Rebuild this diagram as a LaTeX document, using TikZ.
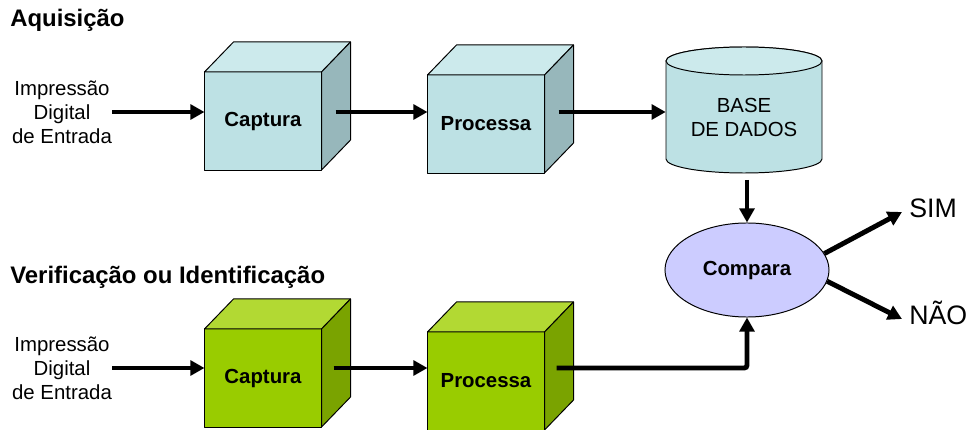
\documentclass[tikz,border=0pt]{standalone}
\usepackage{fontspec}
\setmainfont{Liberation Sans}
\usepackage{tikz}
\usetikzlibrary{positioning,shapes.geometric,arrows.meta}
\definecolor{aqfront}{RGB}{189,225,228}
\definecolor{aqtop}{RGB}{204,234,236}
\definecolor{aqside}{RGB}{151,183,187}
\definecolor{vefront}{RGB}{153,204,0}
\definecolor{vetop}{RGB}{178,217,51}
\definecolor{veside}{RGB}{122,163,0}
\definecolor{cmpfill}{RGB}{204,204,255}
\tikzset{%
	face/.style={draw, line width=0.7pt, line join=round},
	front/.style={%
		face,
		rectangle,
		outer sep=0pt,
		minimum width=2.925cm,
		minimum height=2.45cm,
		font=\bfseries\fontsize{14.5}{17}\selectfont
	},
	heading/.style={anchor=base west, inner sep=0pt, font=\bfseries\fontsize{17}{20}\selectfont},
	input/.style={align=center, inner sep=0pt, font=\fontsize{14.5}{17}\selectfont},
	dbtext/.style={align=center, inner sep=0pt, minimum width=3.9cm, font=\fontsize{14.5}{17}\selectfont},
	compare/.style={face, ellipse, fill=cmpfill, inner sep=0pt, minimum width=4.1cm, minimum height=2.35cm, font=\bfseries\fontsize{14.5}{17}\selectfont},
	outcome/.style={anchor=west, inner sep=5pt, text height=0.72em, text depth=0pt, font=\fontsize{19}{22}\selectfont},
	flow/.style={line width=3.5pt, -{Triangle[length=10pt,width=10.5pt]}}
}
\newcommand{\cubesides}[3]{% node, top colour, side colour
	\draw[face, fill=#2] (#1.north west) -- ++(29,30) -- ([shift={(29,30)}]#1.north east) -- (#1.north east) -- cycle;
	\draw[face, fill=#3] (#1.north east) -- ([shift={(29,30)}]#1.north east) -- ([shift={(29,30)}]#1.south east) -- (#1.south east) -- cycle;
}
\begin{document}
\begin{tikzpicture}[x=0.025cm, y=0.025cm]
	\useasboundingbox (0,0) rectangle (976,429);
	\node[heading] (aq) at (10,402) {Aquisição};
	\node[heading] (ve) at (10,146) {Verificação ou Identificação};
	\node[input] (in1) at (62,317) {Impressão\\Digital\\de Entrada};
	\node[input] (in2) at (62,61) {Impressão\\Digital\\de Entrada};
	\node[front, fill=aqfront] (cap1) at (263,308) {Captura};
	\cubesides{cap1}{aqtop}{aqside}
	\node[front, fill=aqfront] (proc1) at (486,305) {Processa};
	\cubesides{proc1}{aqtop}{aqside}
	\node[front, fill=vefront] (cap2) at (263,51) {Captura};
	\cubesides{cap2}{vetop}{veside}
	\node[front, fill=vefront] (proc2) at (486,48) {Processa};
	\cubesides{proc2}{vetop}{veside}
	\draw[face, fill=aqfront] (666,368) -- (666,270) arc[start angle=180, end angle=360, x radius=78, y radius=14] -- (822,368) arc[start angle=0, end angle=180, x radius=78, y radius=14] -- cycle;
	\draw[face, fill=aqtop] (744,368) ellipse[x radius=78, y radius=14];
	\node[dbtext] (db) at (744,311.5) {BASE\\DE DADOS};
	\coordinate (dbfoot) at (747,249);
	\node[compare] (cmp) at (747,159) {Compara};
	\node[outcome] (sim) at (902,217) {SIM};
	\node[outcome] (nao) at (902,110) {NÃO};
	\draw[flow] (in1.east) -- (in1.east -| cap1.west);
	\draw[flow, shorten <=0.35cm] (cap1.east |- in1) -- (proc1.west |- in1);
	\draw[flow, shorten <=0.35cm] (proc1.east |- in1) -- (db.west |- in1);
	\draw[flow] (dbfoot) -- (cmp.north);
	\draw[flow] (in2.east) -- (in2.east -| cap2.west);
	\draw[flow, shorten <=0.3cm] (cap2.east |- in2) -- (proc2.west |- in2);
	\draw[flow, shorten <=0.3cm, rounded corners=2pt] (proc2.east |- in2) -| (cmp.south);
	\draw[flow] (cmp.12) -- (sim.west);
	\draw[flow] (cmp.-8) -- (nao.west);
\end{tikzpicture}
\end{document}
